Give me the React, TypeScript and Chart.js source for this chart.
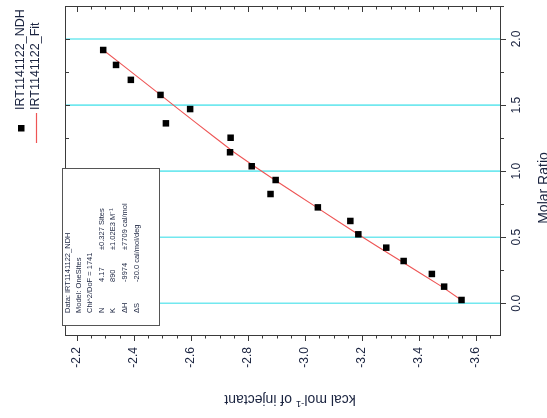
import React, { useEffect, useRef } from "react";
import { Chart, registerables } from "chart.js";

Chart.register(...registerables);

// Molar ratio of each injection (vertical axis)
const molarRatio = [0.025, 0.126, 0.222, 0.32, 0.421, 0.522, 0.623, 0.726, 0.827, 0.933, 1.037, 1.143, 1.253, 1.362, 1.47, 1.577, 1.691, 1.804, 1.917];
// Measured heat, kcal/mol of injectant (horizontal axis)
const ndhKcal = [-3.549, -3.488, -3.445, -3.346, -3.285, -3.187, -3.159, -3.045, -2.879, -2.897, -2.813, -2.737, -2.739, -2.512, -2.597, -2.493, -2.389, -2.337, -2.292];
// Fitted curve
const fitKcal = [-3.548, -3.48, -3.409, -3.336, -3.261, -3.186, -3.114, -3.041, -2.969, -2.894, -2.822, -2.751, -2.685, -2.62, -2.556, -2.493, -2.426, -2.359, -2.292];

const kcalTickLabels = ["-2.2", "-2.4", "-2.6", "-2.8", "-3.0", "-3.2", "-3.4", "-3.6"];
const ratioTickLabels = ["0.0", "0.5", "1.0", "1.5", "2.0"];
const seriesNames = ["IRT1141122_NDH", "IRT1141122_Fit"];
const fitBoxLines = [
  ["Data: IRT1141122_NDH"],
  ["Model: OneSites"],
  ["Chi^2/DoF = 1741"],
  ["N", "4.17", "\u00B10.327 Sites"],
  ["K", "890", "\u00B11.02E3 M\u207B\u00B9"],
  ["\u0394H", "-9974", "\u00B17709 cal/mol"],
  ["\u0394S", "-20.0 cal/mol/deg"],
];

const FONT = '"Liberation Sans", Arial, sans-serif';
const f = (s: number) => `${s}px ${FONT}`;
const TEXT = "#1b2440";

const decor = {
  id: "decor",
  beforeDatasetsDraw(chart: any) {
    const ctx = chart.ctx;
    const { left, right } = chart.chartArea;
    const ys = chart.scales.y;
    ctx.save();
    ctx.strokeStyle = "#72e8ef";
    ctx.lineWidth = 1.6;
    ratioTickLabels.forEach((t) => {
      const y = ys.getPixelForValue(parseFloat(t));
      ctx.beginPath();
      ctx.moveTo(left, y);
      ctx.lineTo(right, y);
      ctx.stroke();
    });
    ctx.restore();
  },
  afterDraw(chart: any) {
    const ctx = chart.ctx;
    const { left, right, top, bottom } = chart.chartArea;
    const xs = chart.scales.x;
    const ys = chart.scales.y;
    ctx.save();
    // frame
    ctx.strokeStyle = "#3a3a3a";
    ctx.lineWidth = 1;
    ctx.strokeRect(Math.round(left) + 0.5, Math.round(top) + 0.5, Math.round(right - left), Math.round(bottom - top));

    // horizontal-axis ticks (bottom outward, top inward)
    for (let i = -1; i < 40; i++) {
      const v = -2.2 - i * 0.05;
      if (v > xs.max || v < xs.min) continue;
      const x = Math.round(xs.getPixelForValue(v)) + 0.5;
      const major = ((i % 4) + 4) % 4 === 0;
      ctx.beginPath();
      ctx.moveTo(x, bottom);
      ctx.lineTo(x, bottom + (major ? 6 : 3.5));
      ctx.moveTo(x, top);
      ctx.lineTo(x, top + (major ? 6 : 3.5));
      ctx.stroke();
    }
    // vertical-axis ticks (right outward, left inward)
    for (let i = -2; i < 12; i++) {
      const v = i * 0.25;
      if (v > ys.max + 1e-6 || v < ys.min) continue;
      const y = Math.round(ys.getPixelForValue(v)) + 0.5;
      const major = i % 2 === 0;
      ctx.beginPath();
      ctx.moveTo(right, y);
      ctx.lineTo(right + (major ? 6 : 4), y);
      ctx.moveTo(left, y);
      ctx.lineTo(left + (major ? 5 : 4), y);
      ctx.stroke();
    }

    ctx.fillStyle = TEXT;
    // bottom tick labels
    ctx.font = f(12);
    kcalTickLabels.forEach((t) => {
      const x = xs.getPixelForValue(parseFloat(t));
      ctx.save();
      ctx.translate(x, bottom + 12);
      ctx.rotate(-Math.PI / 2);
      ctx.textAlign = "right";
      ctx.textBaseline = "middle";
      ctx.fillText(t, 0, 0);
      ctx.restore();
    });
    // right tick labels
    ratioTickLabels.forEach((t) => {
      const y = ys.getPixelForValue(parseFloat(t));
      ctx.save();
      ctx.translate(right + 17, y);
      ctx.rotate(-Math.PI / 2);
      ctx.textAlign = "center";
      ctx.textBaseline = "middle";
      ctx.fillText(t, 0, 0);
      ctx.restore();
    });

    // right title
    ctx.save();
    ctx.font = f(14);
    ctx.translate(548, 188);
    ctx.rotate(-Math.PI / 2);
    ctx.textAlign = "center";
    ctx.textBaseline = "alphabetic";
    ctx.fillText("Molar Ratio", 0, 0);
    ctx.restore();

    // bottom title, upside down
    ctx.save();
    ctx.translate(290, 399);
    ctx.rotate(Math.PI);
    ctx.textBaseline = "middle";
    ctx.textAlign = "left";
    ctx.font = f(14);
    const p1 = "kcal mol";
    const p3 = " of injectant";
    const w1 = ctx.measureText(p1).width;
    const w3 = ctx.measureText(p3).width;
    ctx.font = f(9.5);
    const p2 = "-1";
    const w2 = ctx.measureText(p2).width;
    const sx = -(w1 + w2 + w3) / 2;
    ctx.font = f(14);
    ctx.fillText(p1, sx, 0);
    ctx.font = f(9.5);
    ctx.fillText(p2, sx + w1, -5);
    ctx.font = f(14);
    ctx.fillText(p3, sx + w1 + w2, 0);
    ctx.restore();

    // legend
    ctx.fillStyle = "#000";
    ctx.fillRect(18, 125, 6.5, 6.5);
    ctx.strokeStyle = "#ee5555";
    ctx.lineWidth = 1.2;
    ctx.beginPath();
    ctx.moveTo(36.5, 113);
    ctx.lineTo(36.5, 143);
    ctx.stroke();
    ctx.fillStyle = TEXT;
    ctx.font = f(12.5);
    [21, 36].forEach((lx, k) => {
      ctx.save();
      ctx.translate(lx, 110);
      ctx.rotate(-Math.PI / 2);
      ctx.textAlign = "left";
      ctx.textBaseline = "middle";
      ctx.fillText(seriesNames[k], 0, 0);
      ctx.restore();
    });

    // fit results box
    ctx.fillStyle = "#fff";
    ctx.fillRect(62, 168, 98, 158);
    ctx.strokeStyle = "#555";
    ctx.lineWidth = 1;
    ctx.strokeRect(62.5, 168.5, 97, 157);
    ctx.fillStyle = TEXT;
    ctx.font = f(7.5);
    const cols = [68, 79, 90, 101.5, 113, 125, 137];
    const offs = [0, 31, 63];
    fitBoxLines.forEach((parts, li) => {
      ctx.save();
      ctx.translate(cols[li], 313);
      ctx.rotate(-Math.PI / 2);
      ctx.textAlign = "left";
      ctx.textBaseline = "middle";
      parts.forEach((p, pi) => ctx.fillText(p, offs[pi], 0));
      ctx.restore();
    });
    ctx.restore();
  },
};

export default function App() {
  const ref = useRef<HTMLCanvasElement>(null);
  useEffect(() => {
    if (!ref.current) return;
    const chart = new Chart(ref.current, {
      type: "scatter",
      data: {
        datasets: [
          {
            label: seriesNames[0],
            data: molarRatio.map((m, i) => ({ x: ndhKcal[i], y: m })),
            pointStyle: "rect",
            pointRadius: 4.6,
            backgroundColor: "#000",
            borderColor: "#000",
            borderWidth: 0,
            showLine: false,
          },
          {
            label: seriesNames[1],
            data: molarRatio.map((m, i) => ({ x: fitKcal[i], y: m })),
            showLine: true,
            pointRadius: 0,
            borderColor: "#ee5555",
            borderWidth: 1.1,
            backgroundColor: "#ee5555",
          },
        ],
      },
      options: {
        animation: false,
        responsive: false,
        devicePixelRatio: 1,
        layout: { padding: { left: 65, right: 47, top: 6, bottom: 83 } },
        plugins: { legend: { display: false }, tooltip: { enabled: false } },
        scales: {
          x: { type: "linear", reverse: true, min: -3.684, max: -2.158, display: false },
          y: { type: "linear", min: -0.24, max: 2.25, display: false },
        },
      },
      plugins: [decor],
    });
    return () => chart.destroy();
  }, []);
  return (
    <div style={{ position: "fixed", left: 0, top: 0, width: 547, height: 418, background: "#fff" }}>
      <canvas ref={ref} width={547} height={418} style={{ display: "block" }} />
    </div>
  );
}
